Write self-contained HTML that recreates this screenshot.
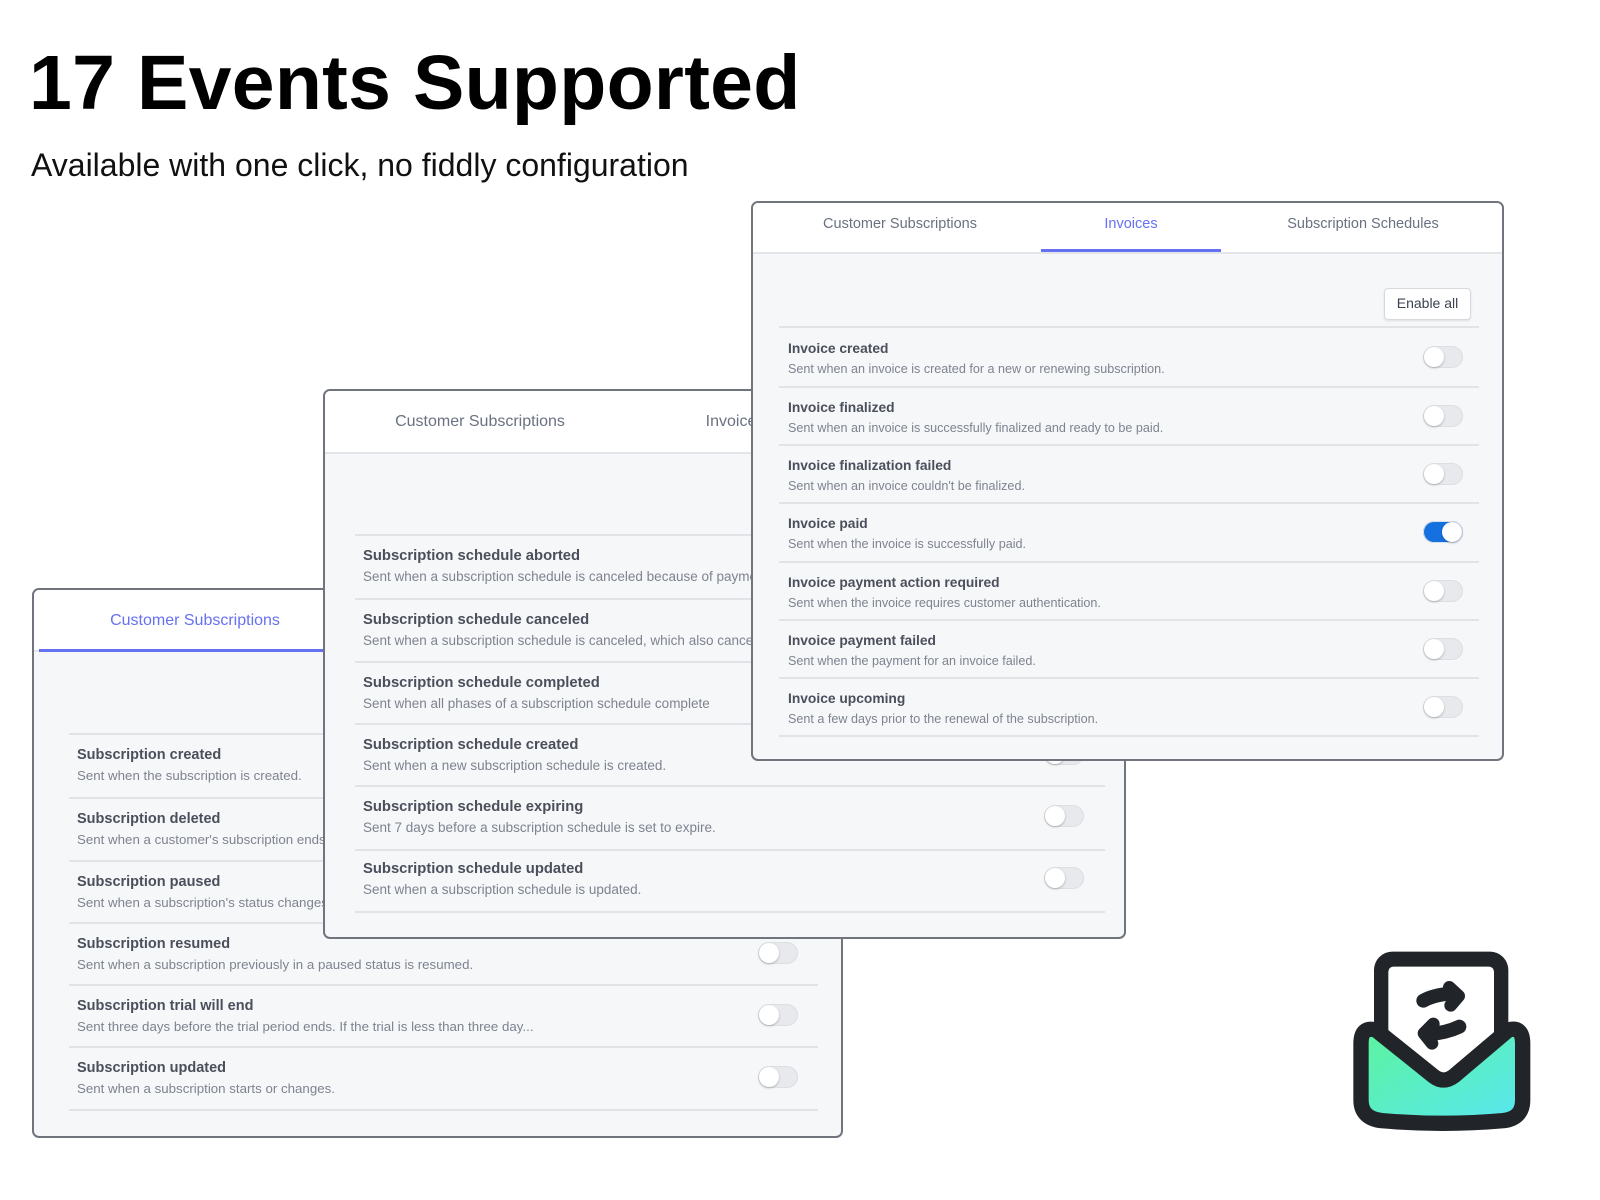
<!DOCTYPE html>
<html><head><meta charset="utf-8">
<style>
*{box-sizing:border-box;margin:0;padding:0}
body{width:1600px;height:1200px;background:#fff;position:relative;overflow:hidden;font-family:"Liberation Sans",sans-serif}
.h1{position:absolute;left:29px;top:38px;font-size:77px;font-weight:bold;color:#000;line-height:90px;white-space:nowrap;letter-spacing:0.3px}
.sub{position:absolute;left:31px;top:145px;font-size:32px;color:#111;line-height:40px;white-space:nowrap}
.panel{position:absolute;border:2px solid #70747c;border-radius:7px;background:#f6f7f9;overflow:hidden}
.hdr{position:absolute;left:0;top:0;right:0;background:#fff;border-bottom:2px solid #e3e5e9}
.tab{position:absolute;white-space:nowrap;color:#6a7180;transform:translate(-50%,-50%)}
.act{color:#6670f2}
.ul{position:absolute;height:3px;background:#6670f2}
.sep{position:absolute;height:2px;background:#e1e3e7}
.t{position:absolute;white-space:nowrap;font-weight:bold;color:#4a4f5b}
.d{position:absolute;white-space:nowrap;color:#7d838f}
.tg{position:absolute;width:40px;height:22px;border-radius:11px;background:#e7e9ec;box-shadow:inset 0 0 0 1px #dcdfe3}
.tg::after{content:"";position:absolute;left:1px;top:1px;width:20px;height:20px;border-radius:50%;background:#fff;box-shadow:0 1px 2px rgba(0,0,0,.25)}
.tg.on{background:#1570e0}
.tg.on::after{left:19px}
.btn{position:absolute;border:1px solid #d6d9de;border-radius:4px;background:#fff;font-size:14px;color:#3c4250;text-align:center;line-height:29px;box-shadow:0 1px 2px rgba(0,0,0,.1)}
</style></head><body>
<div class="h1">17 Events Supported</div>
<div class="sub">Available with one click, no fiddly configuration</div>

<!-- Bottom-left panel -->
<div class="panel" style="left:32px;top:588px;width:811px;height:550px">
 <div class="hdr" style="height:62px"></div>
 <div class="ul" style="left:5px;width:300px;top:59px"></div>
 <div class="tab act" style="left:161px;top:31px;font-size:16px">Customer Subscriptions</div>
 <div class="sep" style="left:35px;width:749px;top:143px"></div>
 <div class="t" style="left:43px;top:145px;font-size:14.5px;line-height:40px">Subscription created</div>
 <div class="d" style="left:43px;top:178px;font-size:13.3px">Sent when the subscription is created.</div>
 <div class="sep" style="left:35px;width:749px;top:207px"></div>
 <div class="t" style="left:43px;top:209px;font-size:14.5px;line-height:40px">Subscription deleted</div>
 <div class="d" style="left:43px;top:242px;font-size:13.3px">Sent when a customer's subscription ends.</div>
 <div class="sep" style="left:35px;width:749px;top:270px"></div>
 <div class="t" style="left:43px;top:272px;font-size:14.5px;line-height:40px">Subscription paused</div>
 <div class="d" style="left:43px;top:305px;font-size:13.3px">Sent when a subscription's status changes to paused.</div>
 <div class="sep" style="left:35px;width:749px;top:332px"></div>
 <div class="t" style="left:43px;top:334px;font-size:14.5px;line-height:40px">Subscription resumed</div>
 <div class="d" style="left:43px;top:367px;font-size:13.3px">Sent when a subscription previously in a paused status is resumed.</div>
 <div class="tg" style="left:724px;top:352px"></div>
 <div class="sep" style="left:35px;width:749px;top:394px"></div>
 <div class="t" style="left:43px;top:396px;font-size:14.5px;line-height:40px">Subscription trial will end</div>
 <div class="d" style="left:43px;top:429px;font-size:13.3px">Sent three days before the trial period ends. If the trial is less than three day...</div>
 <div class="tg" style="left:724px;top:414px"></div>
 <div class="sep" style="left:35px;width:749px;top:456px"></div>
 <div class="t" style="left:43px;top:458px;font-size:14.5px;line-height:40px">Subscription updated</div>
 <div class="d" style="left:43px;top:491px;font-size:13.3px">Sent when a subscription starts or changes.</div>
 <div class="tg" style="left:724px;top:476px"></div>
 <div class="sep" style="left:35px;width:749px;top:519px"></div>
</div>

<!-- Middle panel -->
<div class="panel" style="left:323px;top:389px;width:803px;height:550px">
 <div class="hdr" style="height:63px"></div>
 <div class="tab" style="left:155px;top:31px;font-size:16px">Customer Subscriptions</div>
 <div class="tab" style="left:410px;top:31px;font-size:16px">Invoices</div>
 <div class="sep" style="left:30px;width:750px;top:143px"></div>
 <div class="t" style="left:38px;top:145px;font-size:14.8px;line-height:40px">Subscription schedule aborted</div>
 <div class="d" style="left:38px;top:178px;font-size:13.5px">Sent when a subscription schedule is canceled because of payment failure.</div>
 <div class="sep" style="left:30px;width:750px;top:207px"></div>
 <div class="t" style="left:38px;top:209px;font-size:14.8px;line-height:40px">Subscription schedule canceled</div>
 <div class="d" style="left:38px;top:242px;font-size:13.5px">Sent when a subscription schedule is canceled, which also cancels any active subscription.</div>
 <div class="sep" style="left:30px;width:750px;top:270px"></div>
 <div class="t" style="left:38px;top:272px;font-size:14.8px;line-height:40px">Subscription schedule completed</div>
 <div class="d" style="left:38px;top:305px;font-size:13.5px">Sent when all phases of a subscription schedule complete</div>
 <div class="sep" style="left:30px;width:750px;top:332px"></div>
 <div class="t" style="left:38px;top:334px;font-size:14.8px;line-height:40px">Subscription schedule created</div>
 <div class="d" style="left:38px;top:367px;font-size:13.5px">Sent when a new subscription schedule is created.</div>
 <div class="tg" style="left:719px;top:352px"></div>
 <div class="sep" style="left:30px;width:750px;top:394px"></div>
 <div class="t" style="left:38px;top:396px;font-size:14.8px;line-height:40px">Subscription schedule expiring</div>
 <div class="d" style="left:38px;top:429px;font-size:13.5px">Sent 7 days before a subscription schedule is set to expire.</div>
 <div class="tg" style="left:719px;top:414px"></div>
 <div class="sep" style="left:30px;width:750px;top:458px"></div>
 <div class="t" style="left:38px;top:458px;font-size:14.8px;line-height:40px">Subscription schedule updated</div>
 <div class="d" style="left:38px;top:491px;font-size:13.5px">Sent when a subscription schedule is updated.</div>
 <div class="tg" style="left:719px;top:476px"></div>
 <div class="sep" style="left:30px;width:750px;top:520px"></div>
</div>

<!-- Right panel -->
<div class="panel" style="left:751px;top:201px;width:753px;height:560px">
 <div class="hdr" style="height:51px"></div>
 <div class="ul" style="left:288px;width:180px;top:46px"></div>
 <div class="tab" style="left:147px;top:21px;font-size:14.5px">Customer Subscriptions</div>
 <div class="tab act" style="left:378px;top:21px;font-size:14.5px">Invoices</div>
 <div class="tab" style="left:610px;top:21px;font-size:14.5px">Subscription Schedules</div>
 <div class="btn" style="left:631px;top:85px;width:87px;height:32px">Enable all</div>
 <div class="sep" style="left:26px;width:700px;top:123px"></div>
 <div class="t" style="left:35px;top:138px;font-size:13.8px">Invoice created</div>
 <div class="d" style="left:35px;top:159px;font-size:12.6px">Sent when an invoice is created for a new or renewing subscription.</div>
 <div class="tg" style="left:670px;top:143px"></div>
 <div class="sep" style="left:26px;width:700px;top:183px"></div>
 <div class="t" style="left:35px;top:197px;font-size:13.8px">Invoice finalized</div>
 <div class="d" style="left:35px;top:218px;font-size:12.6px">Sent when an invoice is successfully finalized and ready to be paid.</div>
 <div class="tg" style="left:670px;top:202px"></div>
 <div class="sep" style="left:26px;width:700px;top:241px"></div>
 <div class="t" style="left:35px;top:255px;font-size:13.8px">Invoice finalization failed</div>
 <div class="d" style="left:35px;top:276px;font-size:12.6px">Sent when an invoice couldn't be finalized.</div>
 <div class="tg" style="left:670px;top:260px"></div>
 <div class="sep" style="left:26px;width:700px;top:299px"></div>
 <div class="t" style="left:35px;top:313px;font-size:13.8px">Invoice paid</div>
 <div class="d" style="left:35px;top:334px;font-size:12.6px">Sent when the invoice is successfully paid.</div>
 <div class="tg on" style="left:670px;top:318px"></div>
 <div class="sep" style="left:26px;width:700px;top:358px"></div>
 <div class="t" style="left:35px;top:372px;font-size:13.8px">Invoice payment action required</div>
 <div class="d" style="left:35px;top:393px;font-size:12.6px">Sent when the invoice requires customer authentication.</div>
 <div class="tg" style="left:670px;top:377px"></div>
 <div class="sep" style="left:26px;width:700px;top:416px"></div>
 <div class="t" style="left:35px;top:430px;font-size:13.8px">Invoice payment failed</div>
 <div class="d" style="left:35px;top:451px;font-size:12.6px">Sent when the payment for an invoice failed.</div>
 <div class="tg" style="left:670px;top:435px"></div>
 <div class="sep" style="left:26px;width:700px;top:474px"></div>
 <div class="t" style="left:35px;top:488px;font-size:13.8px">Invoice upcoming</div>
 <div class="d" style="left:35px;top:509px;font-size:12.6px">Sent a few days prior to the renewal of the subscription.</div>
 <div class="tg" style="left:670px;top:493px"></div>
 <div class="sep" style="left:26px;width:700px;top:532px"></div>
</div>

<!-- Logo -->
<svg style="position:absolute;left:1300px;top:920px" width="300" height="280" viewBox="0 0 900 840">
 <defs><linearGradient id="g" x1="0" y1="0" x2="1" y2="1"><stop offset="0" stop-color="#5cf49c"/><stop offset="1" stop-color="#58e6f2"/></linearGradient></defs>
 <rect x="222" y="95" width="403" height="400" rx="55" fill="#212428"/>
 <rect x="265" y="140" width="317" height="350" rx="15" fill="#fff"/>
 <path d="M370,242 Q400,225 455,220" stroke="#212428" stroke-width="42" fill="none" stroke-linecap="round"/>
 <polyline points="448,202 476,228 452,256" stroke="#212428" stroke-width="38" fill="none" stroke-linecap="round" stroke-linejoin="round"/>
 <path d="M478,320 Q440,338 390,342" stroke="#212428" stroke-width="42" fill="none" stroke-linecap="round"/>
 <polyline points="400,312 372,340 396,370" stroke="#212428" stroke-width="38" fill="none" stroke-linecap="round" stroke-linejoin="round"/>
 <path d="M183,540 L183,370 Q183,318 228,330 L400,468 Q430,492 462,468 L625,330 Q668,318 668,370 L668,540 Q668,595 610,602 Q430,618 245,602 Q183,595 183,540 Z" fill="url(#g)" stroke="#212428" stroke-width="46" stroke-linejoin="round"/>
</svg>
</body></html>
